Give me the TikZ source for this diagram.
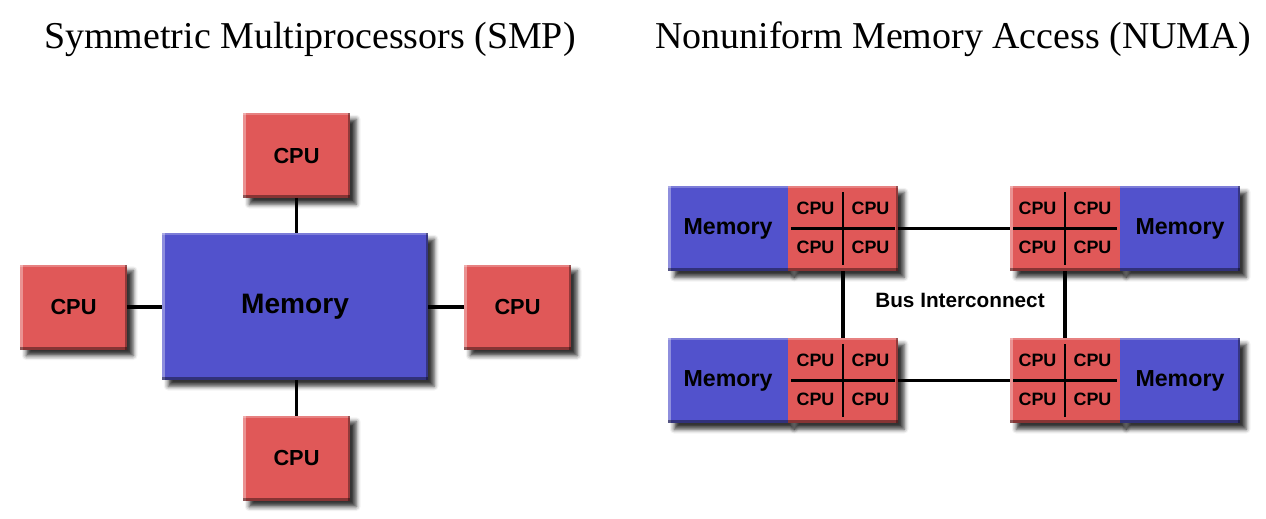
\documentclass[tikz,border=0pt]{standalone}
\usepackage{fontspec}
\setmainfont{Liberation Serif}
\setsansfont{Liberation Sans}
\usetikzlibrary{positioning,shadows.blur}
\definecolor{cpured}{RGB}{224,88,88}
\definecolor{memblue}{RGB}{82,82,204}
\newcommand\bevel[2]{%
	\fill[white,opacity=.35] (#1.south west) rectangle ([xshift=1.5pt]#1.north west);
	\fill[white,opacity=.25] (#1.north west) rectangle ([yshift=-1.2pt]#2.north east);
	\fill[black,opacity=.35] ([xshift=-1.4pt]#2.south east) rectangle (#2.north east);
	\fill[black,opacity=.4] (#1.south west) rectangle ([yshift=1.6pt]#2.south east);
}
\tikzset{
	box/.style={inner sep=0, outer sep=0, blur shadow={shadow xshift=3.5pt, shadow yshift=-3.5pt, shadow blur radius=2.5pt, shadow opacity=80}},
	cpu/.style={box, fill=cpured, minimum width=2.14cm, minimum height=1.7cm, font=\sffamily\bfseries\fontsize{12.4}{14}\selectfont},
	quad/.style={box, fill=cpured, minimum width=2.2cm, minimum height=1.7cm},
	numamem/.style={box, fill=memblue, minimum width=2.4cm, minimum height=1.7cm, font=\sffamily\bfseries\fontsize{13.2}{15}\selectfont},
	cpulabel/.style={inner sep=0, font=\sffamily\bfseries\fontsize{10.2}{12}\selectfont},
	title/.style={anchor=base, inner sep=0, font=\fontsize{21.6}{26}\selectfont},
	link/.style={line width=2pt, black},
	divider/.style={line width=1.3pt, black}
}
\begin{document}
\begin{tikzpicture}[x=0.02cm, y=-0.02cm]
	\useasboundingbox (0,0) rectangle (1266,518);
	\node[title] (smptitle) at (310,48) {Symmetric Multiprocessors (SMP)};
	\node[title] (numatitle) at (953,48) {Nonuniform Memory Access (NUMA)};

	\node[box, fill=memblue, minimum width=5.32cm, minimum height=2.94cm, font=\sffamily\bfseries\fontsize{16}{19}\selectfont] (mem) at (295,306.5) {Memory};
	\node[cpu] (cpuN) at (296.5,155.5) {CPU};
	\node[cpu] (cpuW) at (73.5,307) {CPU};
	\node[cpu] (cpuE) at (517.5,307) {CPU};
	\node[cpu] (cpuS) at (296.5,458) {CPU};
	\bevel{mem}{mem} \bevel{cpuN}{cpuN} \bevel{cpuW}{cpuW} \bevel{cpuE}{cpuE} \bevel{cpuS}{cpuS}
	\draw[link] (cpuN) -- (cpuN |- mem.north);
	\draw[link] (cpuS) -- (cpuS |- mem.south);
	\draw[link] (cpuW) -- (cpuW -| mem.west);
	\draw[link] (cpuE) -- (cpuE -| mem.east);

	\node[numamem] (m1) at (728,228.5) {Memory};
	\node[quad, right=0pt of m1] (q1) {};
	\node[quad] (q2) at (1065,228.5) {};
	\node[numamem, right=0pt of q2] (m2) {Memory};
	\node[numamem] (m3) at (728,380.5) {Memory};
	\node[quad, right=0pt of m3] (q3) {};
	\node[quad] (q4) at (1065,380.5) {};
	\node[numamem, right=0pt of q4] (m4) {Memory};
	\bevel{m1}{q1} \bevel{q2}{m2} \bevel{m3}{q3} \bevel{q4}{m4}
	\foreach \q in {q1,q2,q3,q4} {
		\draw[divider] ([yshift=-0.12cm]\q.north) -- ([yshift=0.12cm]\q.south);
		\draw[divider] ([xshift=0.06cm]\q.west) -- ([xshift=-0.06cm]\q.east);
		\node[cpulabel] (\q-nw) at ([shift={(-27.5,-20)}]\q.center) {CPU};
		\node[cpulabel] (\q-ne) at ([shift={(27.5,-20)}]\q.center) {CPU};
		\node[cpulabel] (\q-sw) at ([shift={(-27.5,19)}]\q.center) {CPU};
		\node[cpulabel] (\q-se) at ([shift={(27.5,19)}]\q.center) {CPU};
	}
	\draw[link] (q1) -- (q2);
	\draw[link] (q3) -- (q4);
	\draw[link] (q1) -- (q3);
	\draw[link] (q2) -- (q4);
	\node[font=\sffamily\bfseries\fontsize{11.8}{14}\selectfont] (bus) at (960,300) {Bus Interconnect};
\end{tikzpicture}
\end{document}
